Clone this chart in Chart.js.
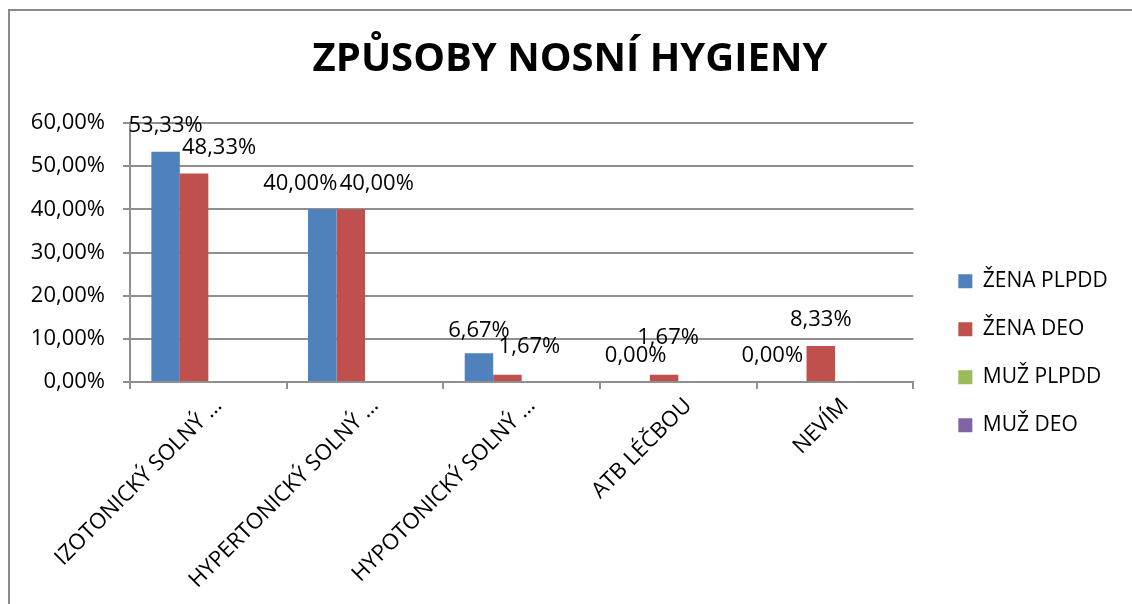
<!DOCTYPE html>
<html>
<head>
<meta charset="utf-8">
<script src="https://cdn.jsdelivr.net/npm/chart.js@4/dist/chart.umd.min.js"></script>
<style>
  html, body { margin: 0; padding: 0; background: #fff; }
  canvas { display: block; }
</style>
</head>
<body>
<canvas id="chart" width="1132" height="604"></canvas>
<script>
// categories and series (values in %)
const categories = ['IZOTONICKÝ SOLNÝ …', 'HYPERTONICKÝ SOLNÝ …', 'HYPOTONICKÝ SOLNÝ …', 'ATB LÉČBOU', 'NEVÍM']
const seriesNames = ['ŽENA PLPDD', 'ŽENA DEO', 'MUŽ PLPDD', 'MUŽ DEO']
const zenaPlpdd = [53.33, 40.00, 6.67, 0.00, 0.00]
const zenaDeo = [48.33, 40.00, 1.67, 1.67, 8.33]
const muzPlpdd = [null, null, null, null, null]
const muzDeo = [null, null, null, null, null]
const yMax = 60
const yStep = 10

const colors = ['#4F81BD', '#C0504D', '#9BBB59', '#8064A2']
const gridColor = '#8f8f8f'
const font = 'Open Sans'

const pct = v => v.toFixed(2).replace('.', ',') + '%'

// outer frame like the Excel chart border
const framePlugin = {
  id: 'frame',
  beforeDraw(chart) {
    const {ctx} = chart
    ctx.save()
    ctx.fillStyle = '#fff'
    ctx.fillRect(0, 0, chart.width, chart.height)
    ctx.strokeStyle = '#8a8a8a'
    ctx.lineWidth = 2
    ctx.strokeRect(9, 10, chart.width + 20, chart.height + 20)
    ctx.restore()
  }
}

// value labels above the bars, nudged where Excel moved them apart
const valueLabels = {
  id: 'valueLabels',
  afterDatasetsDraw(chart, args, opts) {
    const {ctx} = chart
    ctx.save()
    ctx.font = `22px "${font}"`
    ctx.fillStyle = '#000'
    ctx.textAlign = 'center'
    ctx.textBaseline = 'middle'
    chart.data.datasets.forEach((ds, di) => {
      const meta = chart.getDatasetMeta(di)
      ds.data.forEach((v, i) => {
        if (v === null) return
        const bar = meta.data[i]
        const [dx, dy] = (opts.nudge[di] && opts.nudge[di][i]) || [0, 0]
        ctx.fillText(pct(v), bar.x + dx, bar.y - 26 + dy)
      })
    })
    ctx.restore()
  }
}

new Chart(document.getElementById('chart'), {
  type: 'bar',
  data: {
    labels: categories,
    datasets: [zenaPlpdd, zenaDeo, muzPlpdd, muzDeo].map((d, i) => ({
      label: seriesNames[i],
      data: d,
      backgroundColor: colors[i],
      borderWidth: 0,
      categoryPercentage: 4 / 5.5,
      barPercentage: 1
    }))
  },
  options: {
    responsive: false,
    animation: false,
    layout: { padding: { top: 0, left: 28, right: 20, bottom: 0 } },
    scales: {
      x: {
        grid: { display: true, drawOnChartArea: false, color: gridColor, lineWidth: 2, tickLength: 7 },
        border: { color: gridColor, width: 2 },
        ticks: {
          color: '#000',
          font: { family: font, size: 22 },
          minRotation: 45,
          maxRotation: 45,
          autoSkip: false,
          labelOffset: 10,
          padding: 4
        },
        afterFit(s) { s.height = 222 }
      },
      y: {
        min: 0,
        max: yMax,
        grid: { color: gridColor, lineWidth: 2, tickLength: 7 },
        border: { color: gridColor, width: 2 },
        ticks: {
          stepSize: yStep,
          color: '#000',
          font: { family: font, size: 22 },
          padding: 18,
          callback: v => pct(v)
        },
        afterFit(s) { s.width = 102 }
      },
      gap: {
        type: 'linear',
        position: 'right',
        display: true,
        grid: { display: false },
        border: { display: false },
        ticks: { display: false },
        afterFit(s) { s.width = 18 }
      }
    },
    plugins: {
      title: {
        display: true,
        text: 'ZPŮSOBY NOSNÍ HYGIENY',
        color: '#000',
        font: { family: font, size: 40, weight: 'bold' },
        padding: { top: 36, bottom: 39 }
      },
      legend: {
        position: 'right',
        title: { display: true, text: ' ', font: { size: 12 }, padding: { top: 88, bottom: 0 } },
        labels: {
          color: '#000',
          font: { family: font, size: 21 },
          boxWidth: 14,
          boxHeight: 14,
          padding: 27
        }
      },
      tooltip: { enabled: false },
      valueLabels: {
        nudge: {
          0: { 1: [-22, 0], 2: [0, 4], 4: [-20, 0] },
          1: { 0: [25, 0], 1: [26, 0], 2: [22, -2], 3: [4, -11] }
        }
      }
    }
  },
  plugins: [framePlugin, valueLabels]
})
</script>
</body>
</html>
